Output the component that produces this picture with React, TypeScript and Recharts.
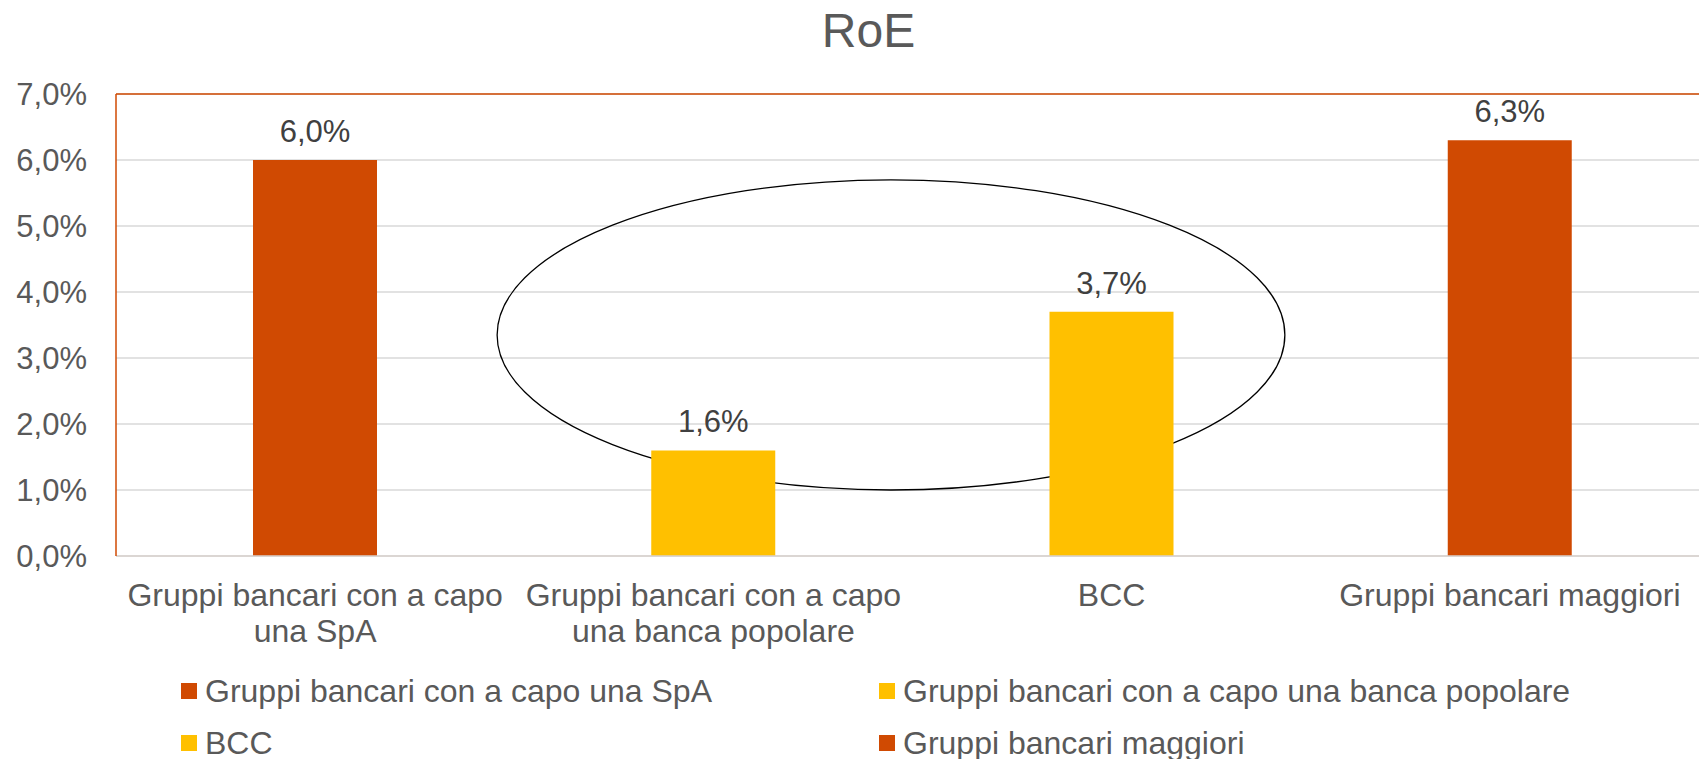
import React from "react";
import {
  BarChart,
  Bar,
  Cell,
  XAxis,
  YAxis,
  CartesianGrid,
  LabelList,
  ReferenceArea,
  ReferenceLine,
} from "recharts";

const categories = [
  "Gruppi bancari con a capo una SpA",
  "Gruppi bancari con a capo una banca popolare",
  "BCC",
  "Gruppi bancari maggiori",
];
const roeValues = [6.0, 1.6, 3.7, 6.3];
const barColors = ["#D04A02", "#FFC000", "#FFC000", "#D04A02"];
const xTickLines = [
  ["Gruppi bancari con a capo", "una SpA"],
  ["Gruppi bancari con a capo", "una banca popolare"],
  ["BCC"],
  ["Gruppi bancari maggiori"],
];
const yTicks = [0, 1, 2, 3, 4, 5, 6, 7];

// ellipse around the two yellow bars: x in category bands (0 = left edge, 4 = right edge), y in %
const ellipseX = [0.957, 2.935];
const ellipseY = [1.0, 5.7];

const FONT = "'Liberation Sans', Arial, sans-serif";
const ORANGE = "#D04A02";

const data = categories.map((name, i) => ({ name, value: roeValues[i] }));

// the hidden numeric axis spans [0, n-1] across the whole plot width
const posMax = categories.length - 1;
const toPos = (band: number) => (band * posMax) / categories.length;

const pct = (v: number) => v.toFixed(1).replace(".", ",") + "%";

function CategoryTick(props: any) {
  const { x, y, index } = props;
  const lines = xTickLines[index] || [];
  return (
    <g>
      {lines.map((line, i) => (
        <text
          key={i}
          x={x}
          y={y + 50 + i * 36}
          textAnchor="middle"
          fill="#595959"
          fontSize={32}
          fontFamily={FONT}
        >
          {line}
        </text>
      ))}
    </g>
  );
}

function EllipseShape(props: any) {
  const { x, y, width, height } = props;
  return (
    <ellipse
      cx={x + width / 2}
      cy={y + height / 2}
      rx={Math.abs(width) / 2}
      ry={Math.abs(height) / 2}
      fill="none"
      stroke="#000"
      strokeWidth={1.3}
    />
  );
}

const legendPos = [
  { left: 181, top: 691 },
  { left: 879, top: 691 },
  { left: 181, top: 743 },
  { left: 879, top: 743 },
];

export default function App() {
  return (
    <div
      style={{
        position: "absolute",
        left: 0,
        top: 0,
        width: 1699,
        height: 759,
        overflow: "hidden",
        background: "#fff",
        fontFamily: FONT,
      }}
    >
      <div
        style={{
          position: "absolute",
          left: 0,
          top: 7,
          width: 1737,
          textAlign: "center",
          fontSize: 48,
          lineHeight: "48px",
          color: "#595959",
        }}
      >
        RoE
      </div>

      <BarChart
        width={1712}
        height={759}
        data={data}
        margin={{ top: 94, right: 3, left: 16, bottom: 113 }}
      >
        <CartesianGrid vertical={false} stroke="#d9d9d9" strokeWidth={1.3} />
        <XAxis
          dataKey="name"
          interval={0}
          height={90}
          tickLine={false}
          tickSize={0}
          tickMargin={0}
          axisLine={{ stroke: "#d9d2ce", strokeWidth: 1.5 }}
          tick={<CategoryTick />}
        />
        <XAxis
          xAxisId="pos"
          type="number"
          domain={[0, posMax]}
          allowDataOverflow
          hide
        />
        <YAxis
          width={100}
          domain={[0, 7]}
          ticks={yTicks}
          tickFormatter={pct}
          tickLine={false}
          tickSize={0}
          tickMargin={29}
          axisLine={{ stroke: ORANGE, strokeWidth: 1.5 }}
          tick={{ fill: "#595959", fontSize: 31, fontFamily: FONT }}
        />
        <ReferenceLine y={7} stroke={ORANGE} strokeWidth={1.5} />
        <Bar dataKey="value" barSize={124} isAnimationActive={false}>
          {data.map((d, i) => (
            <Cell key={d.name} fill={barColors[i]} />
          ))}
          <LabelList
            dataKey="value"
            position="top"
            offset={18}
            formatter={(v: any) => pct(Number(v))}
            fill="#404040"
            fontSize={31}
            fontFamily={FONT}
          />
        </Bar>
        <ReferenceArea
          xAxisId="pos"
          x1={toPos(ellipseX[0])}
          x2={toPos(ellipseX[1])}
          y1={ellipseY[0]}
          y2={ellipseY[1]}
          ifOverflow="visible"
          shape={<EllipseShape />}
        />
      </BarChart>

      {categories.map((name, i) => (
        <div
          key={name}
          style={{
            position: "absolute",
            left: legendPos[i].left,
            top: legendPos[i].top - 16,
            height: 32,
            display: "flex",
            alignItems: "center",
            whiteSpace: "nowrap",
          }}
        >
          <span
            style={{
              display: "inline-block",
              width: 16,
              height: 16,
              background: barColors[i],
              marginRight: 8,
            }}
          />
          <span style={{ fontSize: 32, lineHeight: "32px", color: "#595959" }}>
            {name}
          </span>
        </div>
      ))}
    </div>
  );
}
